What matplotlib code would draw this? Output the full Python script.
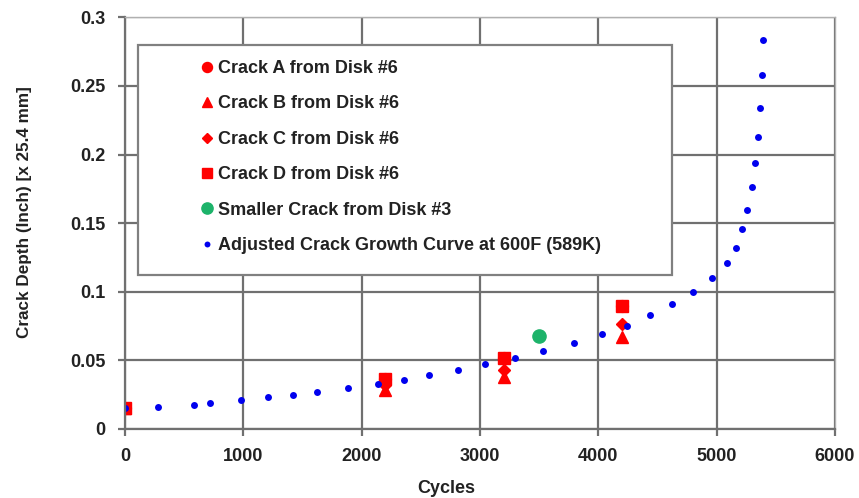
import matplotlib.pyplot as plt
from matplotlib.patches import Rectangle

plt.rcParams['font.family'] = ['Liberation Sans', 'DejaVu Sans']
plt.rcParams['font.weight'] = 'bold'

# adjusted crack growth curve at 600F
curve_x = [0, 276, 580, 720, 979, 1207, 1423, 1620, 1888, 2135, 2360, 2568,
           2816, 3041, 3300, 3533, 3795, 4031, 4245, 4433, 4624, 4799, 4957,
           5091, 5162, 5218, 5257, 5297, 5325, 5347, 5364, 5384, 5392]
curve_y = [0.0151, 0.0156, 0.0175, 0.019, 0.021, 0.0229, 0.0248, 0.027,
           0.0297, 0.0328, 0.0358, 0.039, 0.0428, 0.0469, 0.0518, 0.0569,
           0.0628, 0.0688, 0.0747, 0.083, 0.091, 0.100, 0.1097, 0.121, 0.132,
           0.146, 0.1596, 0.176, 0.1937, 0.213, 0.234, 0.258, 0.2837]

# measured cracks, disk #6
disk6_x = [0, 2200, 3200, 4200]
crack_a = [0.015, 0.0365, 0.0516, 0.0893]
crack_b = [0.015, 0.028, 0.038, 0.067]
crack_c = [0.015, 0.032, 0.043, 0.0766]
crack_d = [0.015, 0.0365, 0.0516, 0.0893]

# smaller crack, disk #3
disk3_x = [3500]
disk3_y = [0.068]

red = '#ff0000'
fig = plt.figure(figsize=(8.59, 4.98), dpi=100)
ax = fig.add_axes([0.1455, 0.139, 0.8265, 0.826])

ax.plot(disk6_x, crack_a, 'o', color=red, ms=8.5, label='Crack A from Disk #6')
ax.plot(disk6_x, crack_b, '^', color=red, ms=9, label='Crack B from Disk #6')
ax.plot(disk6_x, crack_c, 'D', color=red, ms=6.5, label='Crack C from Disk #6')
ax.plot(disk6_x, crack_d, 's', color=red, ms=9, label='Crack D from Disk #6')
ax.plot(disk3_x, disk3_y, 'o', color='#1db36a', ms=9.5, label='Smaller Crack from Disk #3')
ax.plot(curve_x, curve_y, 'o', color='#0000ee', ms=5, mew=0,
        label='Adjusted Crack Growth Curve at 600F (589K)')

ax.set_xlim(0, 6000)
ax.set_ylim(0, 0.3)
ax.set_xticks(range(0, 6001, 1000))
ax.set_yticks([0, 0.05, 0.1, 0.15, 0.2, 0.25, 0.3])
ax.set_yticklabels(['0', '0.05', '0.1', '0.15', '0.2', '0.25', '0.3'])
ax.grid(True, color='#707070', lw=1.6)
ax.set_axisbelow(True)
for s in ['left', 'bottom']:
    ax.spines[s].set_color('#707070')
    ax.spines[s].set_linewidth(1.6)
for s in ['top', 'right']:
    ax.spines[s].set_color('#b0b0b0')
    ax.spines[s].set_linewidth(1.0)
ax.tick_params(colors='#707070', labelcolor='#222222', labelsize=13, length=5,
               width=1.6, pad=9)
for t in ax.get_xticklabels() + ax.get_yticklabels():
    t.set_fontweight('bold')

ax.set_xlabel('Cycles', fontsize=13, fontweight='bold', color='#222222')
ax.set_ylabel('Crack Depth (Inch) [x 25.4 mm]', fontsize=12.3, fontweight='bold',
              color='#222222')
ax.xaxis.set_label_coords(0.452, -0.124)
ax.yaxis.set_label_coords(-0.131, 0.528)

# legend box
ax.add_patch(Rectangle((138 / 859, 1 - 275 / 498), 534 / 859, 230 / 498,
                       transform=fig.transFigure, facecolor='white',
                       edgecolor='#808080', lw=1.6, zorder=4, clip_on=False))
leg = ax.legend(loc='upper left', bbox_to_anchor=(193 / 859, 1 - 51 / 498),
                bbox_transform=fig.transFigure, frameon=False, fontsize=13,
                handlelength=0.6, handletextpad=0.3, labelspacing=1.02,
                borderpad=0, markerscale=0.85)
leg.set_zorder(5)
for t in leg.get_texts():
    t.set_color('#222222')
    t.set_fontweight('bold')

plt.savefig('out.png', dpi=100)
